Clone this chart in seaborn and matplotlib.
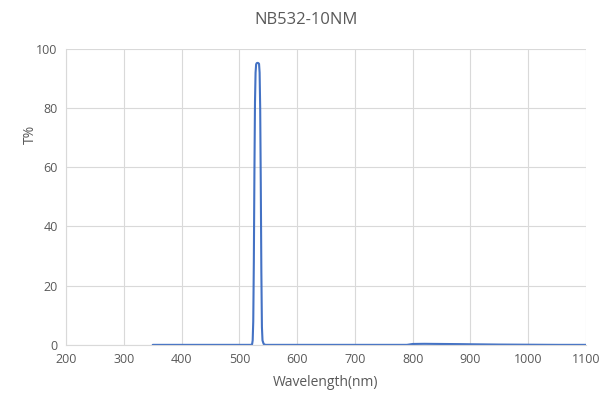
import matplotlib
matplotlib.use("Agg")
import matplotlib.pyplot as plt
import seaborn as sns
import pandas as pd

# Transmission curve
wavelength = [350, 400, 450, 500, 515, 520, 522, 523, 524, 525, 526, 527, 528, 529,
              530, 532, 534, 535, 536, 537, 538, 539, 540, 542, 545, 560, 600, 700,
              790, 800, 820, 850, 880, 900, 950, 1000, 1050, 1100]
trans = [0, 0, 0, 0, 0, 0, 0.2, 1.5, 8, 28, 58, 82, 92, 94.8,
         95.2, 95.3, 95, 92, 80, 55, 25, 6, 1.5, 0.3, 0, 0, 0, 0,
         0, 0.3, 0.35, 0.3, 0.25, 0.2, 0.1, 0.05, 0, 0]

df = pd.DataFrame({"Wavelength": wavelength, "T": trans})

sns.set_style("whitegrid")
plt.rcParams["font.family"] = ["Open Sans", "DejaVu Sans"]

text_color = "#595959"
grid_color = "#d9d9d9"

fig = plt.figure(figsize=(6.12, 4.01), dpi=100)
ax = fig.add_axes([0.108, 0.14, 0.8495, 0.738])

sns.lineplot(data=df, x="Wavelength", y="T", ax=ax, color="#4472C4", linewidth=1.5)

ax.set_xlim(200, 1100)
ax.set_ylim(0, 100)
ax.set_xticks(range(200, 1101, 100))
ax.set_yticks(range(0, 101, 20))
ax.grid(True, color=grid_color, linewidth=0.8)
for side in ["top", "right"]:
    ax.spines[side].set_visible(False)
for side in ["left", "bottom"]:
    ax.spines[side].set_color(grid_color)
    ax.spines[side].set_linewidth(0.8)

ax.tick_params(axis="both", colors=text_color, labelsize=9, length=0, pad=6)
ax.set_xlabel("Wavelength(nm)", color=text_color, fontsize=10, labelpad=6)
ax.set_ylabel("T%", color=text_color, fontsize=10)
ax.yaxis.set_label_coords(-0.055, 0.71)
fig.text(0.5, 0.95, "NB532-10NM", color=text_color, fontsize=12,
         ha="center", va="center")

fig.savefig("out.png", dpi=100)
